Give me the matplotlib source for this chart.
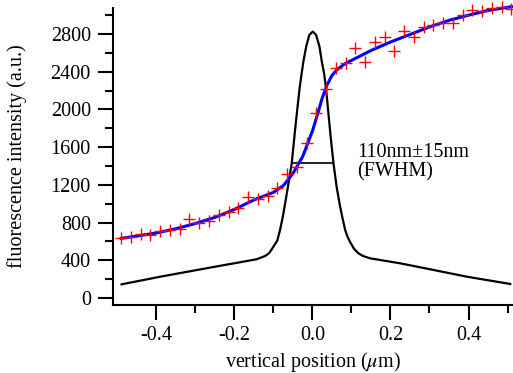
import numpy as np
import matplotlib.pyplot as plt
from matplotlib.ticker import MultipleLocator, FixedLocator

plt.rcParams['font.family'] = ['Liberation Serif', 'DejaVu Serif']
plt.rcParams['mathtext.fontset'] = 'stix'

# measured intensity profile (red crosses)
pos_meas = np.arange(41) * 0.025 - 0.49
int_meas = [640, 646, 676, 672, 711, 721, 729, 835, 793, 820,
            880, 912, 955, 1075, 1047, 1085, 1164, 1316, 1393, 1641,
            1966, 2218, 2440, 2490, 2656, 2507, 2720, 2773, 2624, 2828,
            2773, 2879, 2897, 2915, 2915, 2997, 3059, 3042, 3074, 3084,
            3066]

# fitted curve (blue)
pos_fit = [-0.49, -0.45, -0.40, -0.35, -0.30, -0.25, -0.20, -0.15, -0.10,
           -0.075, -0.05, -0.025, 0.0, 0.0125, 0.025, 0.0375, 0.05, 0.0625,
           0.075, 0.0875, 0.10, 0.15, 0.20, 0.25, 0.30, 0.35, 0.40, 0.45,
           0.51]
int_fit = [632, 658, 690, 735, 790, 855, 940, 1040, 1120,
           1190, 1320, 1500, 1770, 1940, 2120, 2260, 2360, 2420,
           2460, 2495, 2520, 2625, 2715, 2795, 2875, 2945, 3000, 3050,
           3090]

# derived point spread function (black)
pos_psf = [-0.489, -0.39, -0.263, -0.143, -0.121, -0.11, -0.10, -0.09,
           -0.083, -0.075, -0.067, -0.06, -0.053, -0.044, -0.038, -0.033,
           -0.027, -0.023, -0.016, -0.008, 0.001, 0.0095, 0.018, 0.024,
           0.030, 0.035, 0.041, 0.047, 0.054, 0.062, 0.071, 0.078, 0.084,
           0.09, 0.097, 0.107, 0.118, 0.13, 0.148, 0.225, 0.311, 0.396,
           0.507]
int_psf = [145, 226, 322, 411, 446, 480, 544, 610,
           721, 880, 1075, 1250, 1429, 1800, 2030, 2220,
           2400, 2510, 2667, 2790, 2826, 2790, 2667, 2510,
           2380, 2220, 1960, 1700, 1429, 1180, 969, 830, 721,
           650, 590, 520, 474, 445, 421, 368, 297, 226,
           149]

fwhm_x = [-0.053, 0.054]
fwhm_y = [1429, 1429]

fig = plt.figure(figsize=(5.13, 3.73), dpi=100)
ax = fig.add_axes([113 / 513, 68 / 373, 400 / 513, 297 / 373])

ax.plot(pos_psf, int_psf, color='black', lw=1.6, clip_on=False)
ax.plot(fwhm_x, fwhm_y, color='black', lw=1.2)
ax.plot(pos_fit, int_fit, color='#0000ff', lw=2.2, clip_on=False)
ax.plot(pos_meas, int_meas, '+', color='#ff0000', ms=9, mew=1.0, clip_on=False)

ax.text(0.114, 1440, '110nm\u00b115nm\n(FWHM)', fontsize=14.5, va='center',
        linespacing=1.0)

ax.set_xlim(-0.511, 0.514)
ax.set_ylim(-74, 3076)
ax.xaxis.set_major_locator(MultipleLocator(0.2))
ax.xaxis.set_minor_locator(FixedLocator([-0.3, -0.1, 0.1, 0.3, 0.5]))
ax.yaxis.set_major_locator(MultipleLocator(400))
ax.yaxis.set_minor_locator(MultipleLocator(200))
ax.xaxis.set_major_formatter(plt.FuncFormatter(lambda v, p: f'{v:.1f}'))

for s in ['top', 'right']:
    ax.spines[s].set_visible(False)
for s in ['left', 'bottom']:
    ax.spines[s].set_linewidth(1.5)
ax.tick_params(which='major', length=11, width=1.5, labelsize=14.5)
ax.tick_params(which='minor', length=5.5, width=1.5)
ax.tick_params(axis='y', pad=5)
ax.tick_params(axis='x', pad=4)

ax.set_xlabel(r'vertical position ($\mu$m)', fontsize=14.5)
ax.set_ylabel('fluorescence intensity (a.u.)', fontsize=14.5)
ax.xaxis.set_label_coords(0.5, -0.15)
ax.yaxis.set_label_coords(-0.215, 0.5)

fig.savefig('out.png', dpi=100)
